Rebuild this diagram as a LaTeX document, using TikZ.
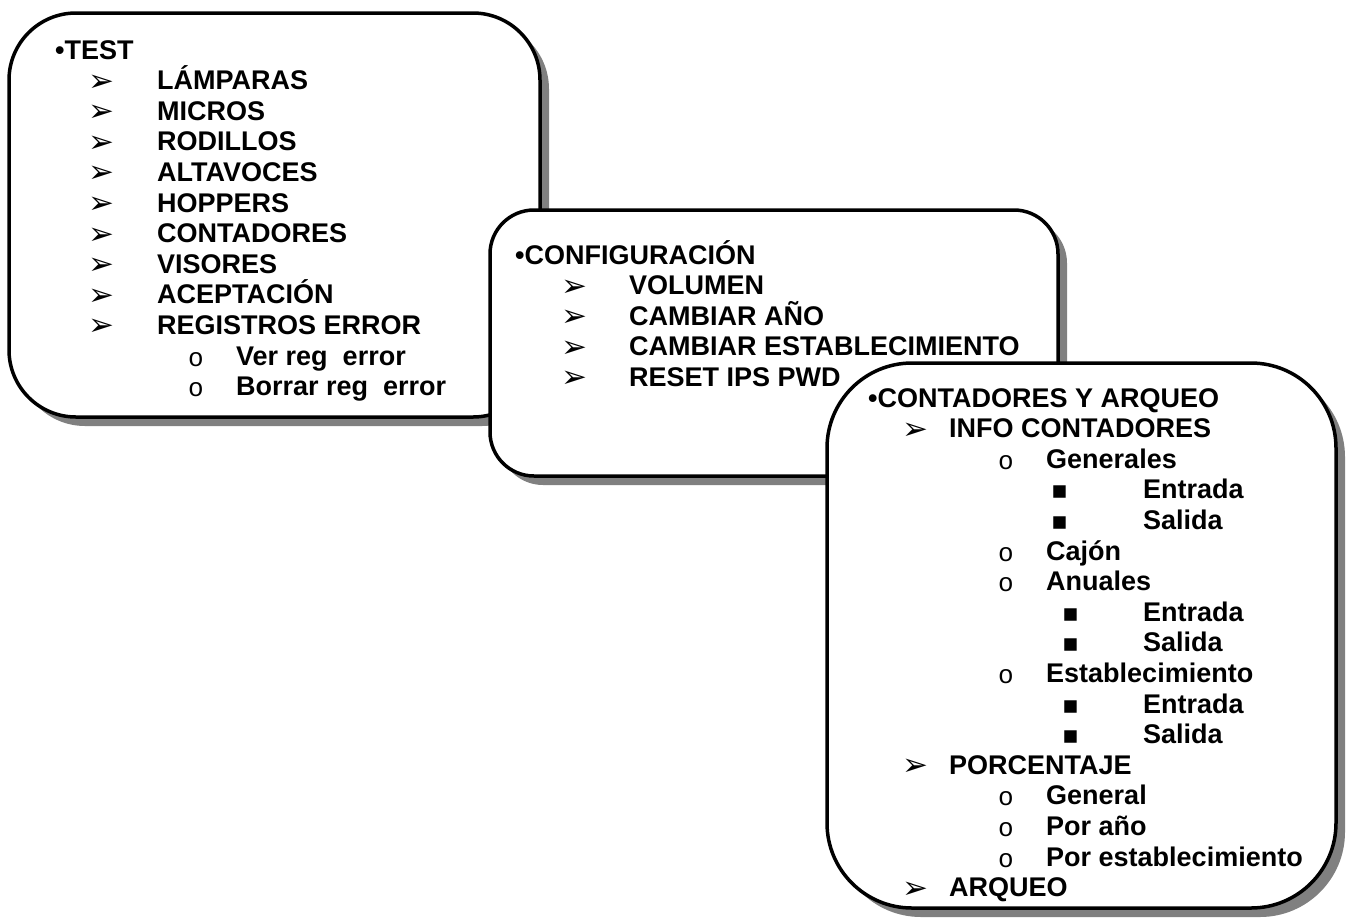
\documentclass[tikz,border=0pt]{standalone}
\usepackage{fontspec}
\setmainfont{Liberation Sans}
\newfontfamily\symfont{DejaVu Sans}
\newfontfamily\circfont{Liberation Mono}
\usetikzlibrary{calc}
\definecolor{shadowgray}{RGB}{128,128,128}
\tikzset{
  panel/.style={draw=black, line width=3.5pt, fill=white},
  panelshadow/.style={fill=shadowgray},
  entry/.style={anchor=base west, inner sep=0pt, font=\bfseries\fontsize{27}{30}\selectfont},
  arrowmark/.style={anchor=base west, inner sep=0pt, font=\symfont\fontsize{31}{30}\selectfont},
  circmark/.style={anchor=base west, inner sep=0pt, font=\circfont\fontsize{26}{30}\selectfont},
  squaremark/.style={anchor=base west, inner sep=0pt, font=\symfont\fontsize{25}{30}\selectfont},
}

\begin{document}
\begin{tikzpicture}[x=1pt, y=-1pt]
\useasboundingbox (0,0) rectangle (1350,922);

% TEST panel
\fill[panelshadow, rounded corners=67pt] (18,22) rectangle (549,426);
\draw[panel, rounded corners=67pt] (9,13) rectangle (540,417);
\node[entry] (test) at (55,59) {•TEST};
\node[arrowmark] (ta1) at (88,91) {➢};   \node[entry] (lamp) at (157,89.6) {LÁMPARAS};
\node[arrowmark] (ta2) at (88,121.6) {➢};  \node[entry] (micr) at (157,120.2) {MICROS};
\node[arrowmark] (ta3) at (88,152.2) {➢};  \node[entry] (rodi) at (157,150.8) {RODILLOS};
\node[arrowmark] (ta4) at (88,182.8) {➢};  \node[entry] (alta) at (157,181.4) {ALTAVOCES};
\node[arrowmark] (ta5) at (88,213.4) {➢};    \node[entry] (hopp) at (157,212) {HOPPERS};
\node[arrowmark] (ta6) at (88,244) {➢};  \node[entry] (cont) at (157,242.6) {CONTADORES};
\node[arrowmark] (ta7) at (88,274.6) {➢};  \node[entry] (viso) at (157,273.2) {VISORES};
\node[arrowmark] (ta8) at (88,305.2) {➢};  \node[entry] (acep) at (157,303.8) {ACEPTACIÓN};
\node[arrowmark] (ta9) at (88,335.8) {➢};  \node[entry] (regi) at (157,334.4) {REGISTROS ERROR};
\node[circmark] (tc1) at (188,366) {o};    \node[entry] (verr) at (236,365) {Ver reg~ error};
\node[circmark] (tc2) at (188,396.6) {o};  \node[entry] (borr) at (236,395.6) {Borrar reg~ error};

% CONFIGURACION panel
\fill[panelshadow, rounded corners=44pt] (499,219) rectangle (1067,485);
\draw[panel, rounded corners=44pt] (490,210) rectangle (1058,476);
\node[entry] (conf) at (515,264) {•CONFIGURACIÓN};
\node[arrowmark] (ca1) at (561,296) {➢};  \node[entry] (volu) at (629,294.6) {VOLUMEN};
\node[arrowmark] (ca2) at (561,326.6) {➢};  \node[entry] (anio) at (629,325.2) {CAMBIAR AÑO};
\node[arrowmark] (ca3) at (561,357.2) {➢};  \node[entry] (esta) at (629,355.8) {CAMBIAR ESTABLECIMIENTO};
\node[arrowmark] (ca4) at (561,387.8) {➢};  \node[entry] (rese) at (629,386.4) {RESET IPS PWD};

% CONTADORES Y ARQUEO panel
\fill[panelshadow, rounded corners=85pt] (836,372) rectangle (1345,917);
\draw[panel, rounded corners=85pt] (827,363) rectangle (1336,908);
\node[entry] (arq) at (868,407) {•CONTADORES Y ARQUEO};
\node[arrowmark] (aa1) at (902,439) {➢};  \node[entry] (info) at (949,437.6) {INFO CONTADORES};
\node[circmark] (ac1) at (998,469.2) {o};   \node[entry] (gene) at (1046,468.2) {Generales};
\node[squaremark] (as1) at (1051,498.8) {▪}; \node[entry] (gent) at (1143,498.8) {Entrada};
\node[squaremark] (as2) at (1051,529.4) {▪}; \node[entry] (gsal) at (1143,529.4) {Salida};
\node[circmark] (ac2) at (998,561) {o};     \node[entry] (cajo) at (1046,560) {Cajón};
\node[circmark] (ac3) at (998,591.6) {o};   \node[entry] (anua) at (1046,590.6) {Anuales};
\node[squaremark] (as3) at (1062,621.2) {▪}; \node[entry] (aent) at (1143,621.2) {Entrada};
\node[squaremark] (as4) at (1062,651.8) {▪}; \node[entry] (asal) at (1143,651.8) {Salida};
\node[circmark] (ac4) at (998,683.4) {o};   \node[entry] (esti) at (1046,682.4) {Establecimiento};
\node[squaremark] (as5) at (1062,713) {▪};   \node[entry] (eent) at (1143,713) {Entrada};
\node[squaremark] (as6) at (1062,743.6) {▪}; \node[entry] (esal) at (1143,743.6) {Salida};
\node[arrowmark] (aa2) at (902,775.6) {➢};  \node[entry] (porc) at (949,774.2) {PORCENTAJE};
\node[circmark] (ac5) at (998,805.8) {o};   \node[entry] (pgen) at (1046,804.8) {General};
\node[circmark] (ac6) at (998,836.4) {o};   \node[entry] (pani) at (1046,835.4) {Por año};
\node[circmark] (ac7) at (998,867) {o};     \node[entry] (pest) at (1046,866) {Por establecimiento};
\node[arrowmark] (aa3) at (902,898) {➢};  \node[entry] (arqu) at (949,896.6) {ARQUEO};
\end{tikzpicture}
\end{document}
